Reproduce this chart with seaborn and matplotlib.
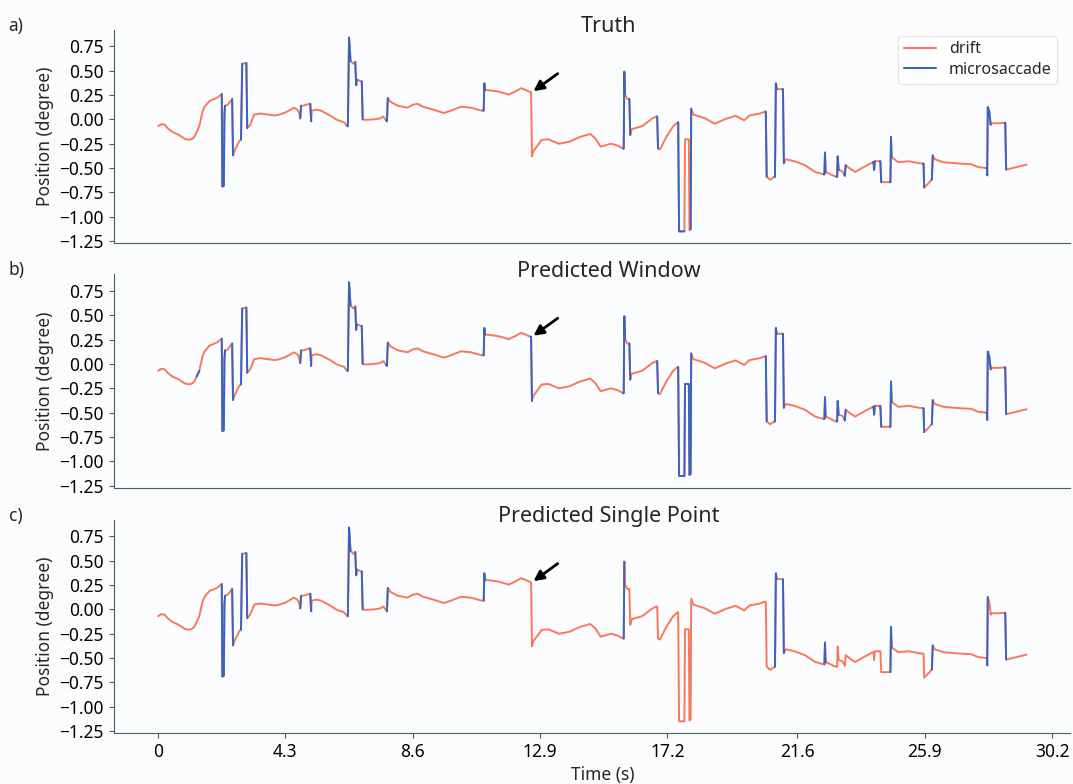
import numpy as np
import pandas as pd
import matplotlib.pyplot as plt
import seaborn as sns
from matplotlib.lines import Line2D

# eye trace (time in s, position in degree)
time_s = [0.00, 0.10, 0.22, 0.32, 0.46, 0.70, 0.90, 1.05, 1.15, 1.22, 1.30, 1.39, 1.50, 1.57, 1.74, 1.98, 2.15,
          2.17, 2.22, 2.24, 2.26, 2.35, 2.50, 2.53, 2.60, 2.75, 2.80, 2.84, 2.98, 3.01, 3.10, 3.25, 3.45, 3.70,
          3.95, 4.10, 4.30, 4.59, 4.70, 4.76, 4.80, 4.83, 4.90, 5.11, 5.14, 5.17, 5.19, 5.35, 5.50, 5.81, 6.04,
          6.28, 6.39, 6.41, 6.45, 6.50, 6.60, 6.66, 6.69, 6.71, 6.85, 6.88, 6.91, 7.00, 7.30, 7.50, 7.61, 7.70,
          7.73, 7.76, 7.85, 8.10, 8.43, 8.60, 8.77, 8.95, 9.06, 9.30, 9.65, 9.90, 10.23, 10.57, 10.92, 10.98,
          11.00, 11.02, 11.04, 11.16, 11.50, 11.85, 12.09, 12.26, 12.43, 12.58, 12.60, 12.63, 12.67, 12.96,
          13.19, 13.54, 13.89, 14.25, 14.60, 14.77, 14.95, 15.30, 15.53, 15.71, 15.73, 15.75, 15.77, 15.85,
          15.92, 15.95, 16.00, 16.35, 16.70, 16.84, 16.86, 16.89, 16.95, 17.17, 17.40, 17.55, 17.57, 17.60,
          17.78, 17.80, 17.92, 17.93, 17.95, 17.99, 18.01, 18.08, 18.46, 18.81, 19.16, 19.51, 19.80, 19.98,
          20.33, 20.50, 20.53, 20.56, 20.68, 20.82, 20.84, 20.87, 20.90, 21.09, 21.11, 21.14, 21.21, 21.50,
          21.85, 22.20, 22.49, 22.51, 22.53, 22.55, 22.79, 22.92, 22.94, 22.96, 22.99, 23.10, 23.18, 23.20,
          23.23, 23.35, 23.55, 23.72, 23.96, 24.15, 24.17, 24.19, 24.21, 24.38, 24.40, 24.43, 24.72, 24.74,
          24.76, 24.78, 25.01, 25.36, 25.71, 25.84, 25.86, 25.88, 26.06, 26.13, 26.14, 26.17, 26.24, 26.53,
          27.12, 27.47, 27.70, 27.98, 28.00, 28.01, 28.03, 28.08, 28.13, 28.16, 28.40, 28.60, 28.62, 28.65,
          28.80, 29.00, 29.34]
pos_deg = [-0.07, -0.05, -0.055, -0.09, -0.125, -0.16, -0.20, -0.21, -0.20, -0.18, -0.13, -0.07, 0.08, 0.13, 0.19,
           0.22, 0.26, -0.69, -0.68, 0.05, 0.14, 0.15, 0.21, -0.37, -0.31, -0.22, -0.21, 0.57, 0.58, -0.09,
           -0.06, 0.05, 0.06, 0.05, 0.04, 0.05, 0.07, 0.12, 0.10, 0.07, 0.01, 0.14, 0.14, 0.16, 0.16, -0.02,
           0.09, 0.10, 0.09, 0.04, -0.005, -0.03, -0.07, -0.07, 0.84, 0.60, 0.57, 0.59, 0.35, 0.41, 0.39, 0.39,
           0.00, -0.005, 0.00, 0.01, 0.03, -0.01, -0.02, 0.22, 0.18, 0.14, 0.12, 0.15, 0.16, 0.13, 0.12, 0.10,
           0.065, 0.09, 0.13, 0.12, 0.09, 0.09, 0.09, 0.37, 0.30, 0.30, 0.285, 0.255, 0.29, 0.32, 0.30, 0.28,
           0.28, -0.38, -0.33, -0.21, -0.205, -0.25, -0.23, -0.18, -0.15, -0.195, -0.28, -0.25, -0.27, -0.30,
           -0.30, 0.49, 0.26, 0.21, 0.21, -0.16, -0.10, -0.07, 0.01, 0.03, 0.03, -0.30, -0.31, -0.18, -0.07,
           -0.03, -0.03, -1.15, -1.15, -0.205, -0.205, -0.205, -1.14, -1.13, 0.11, 0.05, 0.013, -0.045, 0.003,
           0.037, -0.01, 0.04, 0.06, 0.08, 0.08, -0.59, -0.62, -0.59, -0.59, 0.37, 0.31, 0.31, 0.31, -0.45,
           -0.41, -0.43, -0.47, -0.54, -0.565, -0.565, -0.34, -0.54, -0.575, -0.59, -0.59, -0.38, -0.52, -0.53,
           -0.56, -0.58, -0.47, -0.50, -0.54, -0.51, -0.47, -0.44, -0.44, -0.52, -0.43, -0.43, -0.43, -0.645,
           -0.645, -0.645, -0.18, -0.39, -0.44, -0.43, -0.45, -0.455, -0.455, -0.70, -0.645, -0.62, -0.62,
           -0.37, -0.41, -0.44, -0.455, -0.46, -0.49, -0.50, -0.50, -0.575, 0.127, 0.08, -0.056, -0.04, -0.04,
           -0.035, -0.035, -0.515, -0.505, -0.49, -0.465]

# microsaccade intervals (start, end in s) per panel
truth_sacc = [(2.15, 2.26), (2.50, 2.53), (2.80, 2.84), (2.98, 3.01), (4.80, 4.83), (5.14, 5.17),
              (6.39, 6.50), (6.66, 6.71), (6.88, 6.91), (7.70, 7.76), (10.98, 11.04), (15.71, 15.77),
              (15.92, 15.95), (16.86, 16.89), (17.57, 17.78), (17.99, 18.01), (20.53, 20.56), (20.82, 20.90),
              (21.09, 21.14), (22.49, 22.55), (22.92, 22.99), (23.18, 23.23), (24.15, 24.21), (24.38, 24.43),
              (24.72, 24.78), (25.84, 25.88), (26.13, 26.17), (27.98, 28.13), (28.60, 28.65)]
window_sacc = [(1.30, 1.39), (2.15, 2.26), (2.50, 2.53), (2.80, 2.84), (2.98, 3.01), (4.80, 4.83),
               (5.14, 5.17), (6.39, 6.50), (6.66, 6.71), (6.88, 6.91), (7.70, 7.76), (10.98, 11.04),
               (12.58, 12.63), (15.71, 15.77), (15.92, 15.95), (16.86, 16.89), (17.57, 18.01), (20.53, 20.56),
               (20.82, 20.90), (21.09, 21.14), (22.49, 22.55), (22.92, 22.99), (23.18, 23.23), (24.15, 24.21),
               (24.38, 24.43), (24.72, 24.78), (25.84, 25.88), (26.13, 26.17), (27.98, 28.13), (28.60, 28.65)]
single_sacc = [(2.15, 2.26), (2.50, 2.53), (2.80, 2.84), (2.98, 3.01), (4.80, 4.83), (5.14, 5.17),
               (6.41, 6.50), (6.66, 6.71), (6.88, 6.91), (7.73, 7.76), (11.00, 11.04), (15.73, 15.75),
               (20.84, 20.90), (21.11, 21.14), (22.51, 22.55), (24.74, 24.78), (26.14, 26.17), (28.00, 28.03),
               (28.62, 28.65)]

titles = ["Truth", "Predicted Window", "Predicted Single Point"]
panel_tags = ["a)", "b)", "c)"]
xtick_vals = [0, 4.3, 8.6, 12.9, 17.2, 21.6, 25.9, 30.2]
xtick_labels = ["0", "4.3", "8.6", "12.9", "17.2", "21.6", "25.9", "30.2"]
ytick_vals = [0.75, 0.5, 0.25, 0.0, -0.25, -0.5, -0.75, -1.0, -1.25]

drift_col = "#f9785a"
sacc_col = "#3465c6"
bg = "#fbfcfe"

sns.set_style("ticks")
plt.rcParams['font.family'] = ['Noto Sans', 'DejaVu Sans']

t = np.array(time_s)
v = np.array(pos_deg)

fig = plt.figure(figsize=(10.73, 7.84), dpi=100, facecolor=bg)
boxes = [[0.106, 0.690, 0.891, 0.272], [0.106, 0.378, 0.891, 0.272], [0.106, 0.065, 0.891, 0.272]]

for i, sacc in enumerate([truth_sacc, window_sacc, single_sacc]):
    ax = fig.add_axes(boxes[i])
    ax.set_facecolor(bg)
    sns.lineplot(x=t, y=v, sort=False, estimator=None, color=drift_col, lw=1.4, ax=ax)

    # microsaccade pieces drawn on top
    rows = []
    for k, (a, b) in enumerate(sacc):
        m = (t >= a - 1e-6) & (t <= b + 1e-6)
        for tt, vv in zip(t[m], v[m]):
            rows.append({"t": tt, "v": vv, "seg": k})
    sdf = pd.DataFrame(rows)
    sns.lineplot(data=sdf, x="t", y="v", units="seg", estimator=None, sort=False,
                 color=sacc_col, lw=1.4, ax=ax)

    ax.annotate("", xy=(12.68, 0.29), xytext=(13.5, 0.47),
                arrowprops=dict(arrowstyle="-|>", color="black", lw=2, mutation_scale=15,
                                shrinkA=0, shrinkB=0))

    ax.set_xlim(-1.5, 30.8)
    ax.set_ylim(-1.27, 0.92)
    ax.set_yticks(ytick_vals)
    ax.set_yticklabels([f"{y:.2f}".replace("-", "\u2212") for y in ytick_vals], fontsize=12.5)
    ax.set_ylabel("Position (degree)", fontsize=12.5)
    ax.set_title(titles[i], fontsize=15.5, x=0.518, y=0.99, pad=0)
    sns.despine(ax=ax)
    for s in ["left", "bottom"]:
        ax.spines[s].set_color("#4d5a60")
    ax.tick_params(axis="y", colors="#4d5a60", labelcolor="black")
    if i < 2:
        ax.set_xticks([])
        ax.set_xlabel("")
    else:
        ax.set_xticks(xtick_vals)
        ax.set_xticklabels(xtick_labels, fontsize=12.5)
        ax.tick_params(axis="x", colors="#4d5a60", labelcolor="black")
        ax.set_xlabel("Time (s)", fontsize=12.5, x=0.512)
    fig.text(0.008, boxes[i][1] + boxes[i][3] - 0.001, panel_tags[i], fontsize=12.5)

    if i == 0:
        handles = [Line2D([0], [0], color=drift_col, lw=1.5), Line2D([0], [0], color=sacc_col, lw=1.5)]
        ax.legend(handles, ["drift", "microsaccade"], loc="upper right", bbox_to_anchor=(0.995, 1.01),
                  fontsize=11.5, frameon=True, edgecolor="#e0e0e0", facecolor="white",
                  labelspacing=0.3, borderpad=0.35)

fig.savefig("out.png", dpi=100, facecolor=bg)
